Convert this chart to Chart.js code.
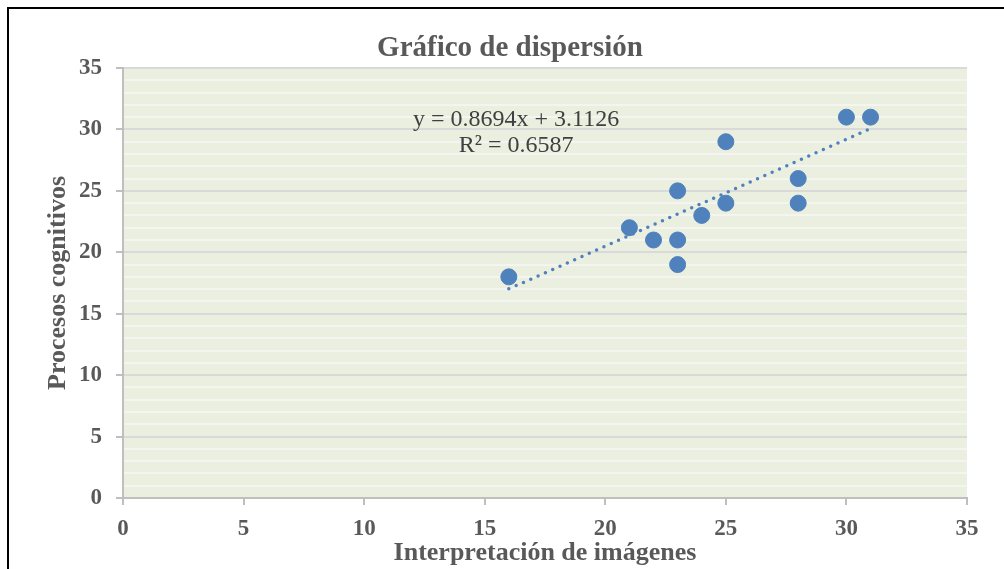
<!DOCTYPE html>
<html>
<head>
<meta charset="utf-8">
<script src="https://cdn.jsdelivr.net/npm/chart.js@4"></script>
<style>
  html, body { margin: 0; padding: 0; background: #fff; overflow: hidden; }
  #frame {
    position: absolute; left: 7px; top: 7px;
    width: 1020px; height: 600px;
    border: 2px solid #000; box-sizing: border-box;
  }
  #wrap { position: absolute; left: 0; top: 0; width: 1004px; height: 569px; }
</style>
</head>
<body>
<div id="frame"></div>
<div id="wrap"><canvas id="scatterChart" width="1004" height="569"></canvas></div>
<script>
// Interpretación de imágenes (x) vs Procesos cognitivos (y)
const xValues = [16, 21, 22, 23, 23, 23, 24, 25, 25, 28, 28, 30, 31];
const yValues = [18, 22, 21, 25, 21, 19, 23, 29, 24, 26, 24, 31, 31];

// Trend line as reported in the chart
const trendSlope = 0.8694;
const trendIntercept = 3.1126;
const trendR2 = 0.6587;
const trendXRange = [16, 31];

const axisMin = 0;
const axisMax = 35;

const chartTitle = 'Gráfico de dispersión';
const blue = '#4f81bd';
const textGray = '#595959';

const points = xValues.map((x, i) => ({ x: x, y: yValues[i] }));
const trendPoints = trendXRange.map(x => ({ x: x, y: trendSlope * x + trendIntercept }));

// Fill the plot area, draw the title and write the equation
const plotDecor = {
    id: 'plotDecor',
    beforeDraw(chart) {
        const { ctx, chartArea } = chart;
        ctx.save();
        ctx.fillStyle = '#ebefdf';
        ctx.fillRect(chartArea.left, chartArea.top, chartArea.right - chartArea.left, chartArea.bottom - chartArea.top);
        ctx.fillStyle = textGray;
        ctx.font = 'bold 29px "Liberation Serif"';
        ctx.textAlign = 'center';
        ctx.textBaseline = 'alphabetic';
        ctx.fillText(chartTitle, 510, 56);
        ctx.restore();
    },
    afterDatasetsDraw(chart) {
        const { ctx, scales } = chart;
        const cx = scales.x.getPixelForValue(16.3);
        const cy = scales.y.getPixelForValue(30.8);
        ctx.save();
        ctx.fillStyle = '#404040';
        ctx.font = '24px "Liberation Serif"';
        ctx.textAlign = 'center';
        ctx.textBaseline = 'middle';
        ctx.fillText('y = ' + trendSlope + 'x + ' + trendIntercept, cx, cy);
        ctx.fillText('R² = ' + trendR2, cx, cy + 26);
        ctx.restore();
    }
};

const ctx = document.getElementById('scatterChart').getContext('2d');
new Chart(ctx, {
    type: 'scatter',
    data: {
        datasets: [{
            label: 'Datos',
            data: points,
            backgroundColor: blue,
            borderColor: blue,
            pointRadius: 8,
            pointHoverRadius: 8,
            order: 1
        }, {
            type: 'line',
            label: 'Tendencia',
            data: trendPoints,
            borderColor: blue,
            borderWidth: 3.5,
            borderDash: [0, 8],
            borderCapStyle: 'round',
            pointRadius: 0,
            fill: false,
            order: 2
        }]
    },
    options: {
        responsive: false,
        animation: false,
        events: [],
        layout: {
            padding: { left: 32, right: 37, top: 68, bottom: 2 }
        },
        plugins: {
            legend: { display: false },
            tooltip: { enabled: false },
            title: { display: false }
        },
        scales: {
            x: {
                type: 'linear',
                min: axisMin,
                max: axisMax,
                border: { color: '#bfbfbf', width: 2 },
                grid: {
                    drawOnChartArea: false,
                    tickLength: 7,
                    tickColor: '#bfbfbf',
                    lineWidth: 2
                },
                ticks: {
                    stepSize: 5,
                    padding: 13,
                    maxRotation: 0,
                    color: textGray,
                    font: { family: 'Liberation Serif', size: 23, weight: 'bold', lineHeight: 1 }
                },
                title: {
                    display: true,
                    text: 'Interpretación de imágenes',
                    color: textGray,
                    font: { family: 'Liberation Serif', size: 26, weight: 'bold', lineHeight: 1 },
                    padding: { top: -14, bottom: 1 }
                }
            },
            y: {
                type: 'linear',
                min: axisMin,
                max: axisMax,
                border: { color: '#bfbfbf', width: 2 },
                grid: {
                    color: c => (c.tick.value % 5 === 0 ? '#d9d9d9' : '#f4f4f0'),
                    lineWidth: 2,
                    tickColor: c => (c.tick.value % 5 === 0 ? '#bfbfbf' : 'rgba(0,0,0,0)'),
                    tickLength: 7
                },
                ticks: {
                    stepSize: 1,
                    autoSkip: false,
                    padding: 14,
                    color: textGray,
                    font: { family: 'Liberation Serif', size: 23, weight: 'bold', lineHeight: 1 },
                    callback: v => (v % 5 === 0 ? v : '')
                },
                title: {
                    display: true,
                    text: 'Procesos cognitivos',
                    color: textGray,
                    font: { family: 'Liberation Serif', size: 26, weight: 'bold', lineHeight: 1 },
                    padding: { top: 13, bottom: -6 }
                }
            }
        }
    },
    plugins: [plotDecor]
});
</script>
</body>
</html>
